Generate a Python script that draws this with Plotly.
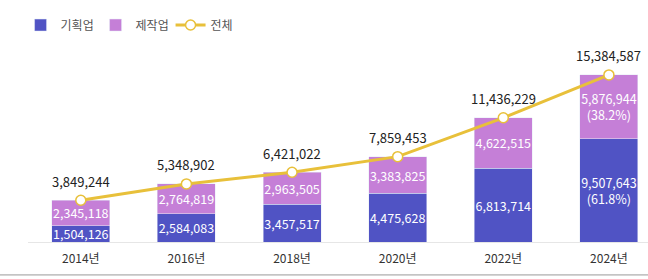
import plotly.graph_objects as go

years = ["2014년", "2016년", "2018년", "2020년", "2022년", "2024년"]
planning = [1504126, 2584083, 3457517, 4475628, 6813714, 9507643]
production = [2345118, 2764819, 2963505, 3383825, 4622515, 5876944]
total = [3849244, 5348902, 6421022, 7859453, 11436229, 15384587]

FONT = "Noto Sans CJK KR, Noto Sans, sans-serif"
BLUE = "#5053c4"
PURPLE = "#c57fd7"
GOLD = "#e8c03a"

def fmt(v):
    return f"{v:,}"

plan_text = [fmt(v) for v in planning]
prod_text = [fmt(v) for v in production]
plan_text[-1] = f"{fmt(planning[-1])}<br>({planning[-1] / total[-1] * 100:.1f}%)"
prod_text[-1] = f"{fmt(production[-1])}<br>({production[-1] / total[-1] * 100:.1f}%)"

fig = go.Figure()
fig.add_trace(go.Bar(
    x=years, y=planning, name="기획업", marker_color=BLUE, width=0.55,
    text=plan_text, textposition="inside", insidetextanchor="middle",
    textangle=0, constraintext="none", cliponaxis=False,
    textfont=dict(color="white", size=12.5, family=FONT),
))
fig.add_trace(go.Bar(
    x=years, y=production, name="제작업", marker_color=PURPLE, width=0.55,
    text=prod_text, textposition="inside", insidetextanchor="middle",
    textangle=0, constraintext="none", cliponaxis=False,
    textfont=dict(color="white", size=12.5, family=FONT),
))
fig.add_trace(go.Scatter(
    x=years, y=total, name="전체", mode="lines+markers",
    line=dict(color=GOLD, width=3),
    marker=dict(size=10, color="white", line=dict(color=GOLD, width=1.5)),
    cliponaxis=False,
))
for x, y in zip(years, total):
    fig.add_annotation(x=x, y=y, text=fmt(y), showarrow=False, yshift=19,
                       font=dict(size=13, color="#222", family=FONT))

fig.add_shape(type="line", xref="paper", yref="paper", x0=-0.05, x1=1.05,
              y0=-0.163, y1=-0.163, line=dict(color="#999", width=1))

fig.update_layout(
    width=648, height=279, barmode="stack",
    margin=dict(l=28, r=0, t=40, b=37, autoexpand=False),
    paper_bgcolor="white", plot_bgcolor="white",
    font=dict(family=FONT, size=12, color="#444"),
    showlegend=True,
    legend=dict(orientation="h", x=-0.012, y=1.074, xanchor="left", yanchor="middle",
                font=dict(size=12, color="#555"), itemwidth=30,
                entrywidth=30, entrywidthmode="pixels",
                traceorder="normal", bgcolor="rgba(0,0,0,0)"),
    xaxis=dict(range=[-0.5, 5.37], showgrid=False, showline=True,
               linecolor="#e6e6e6", ticks="", ticklabelstandoff=6,
               tickfont=dict(size=12, color="#333")),
    yaxis=dict(range=[0, 18600000], visible=False, showgrid=False),
)
fig.write_html("out.html")
